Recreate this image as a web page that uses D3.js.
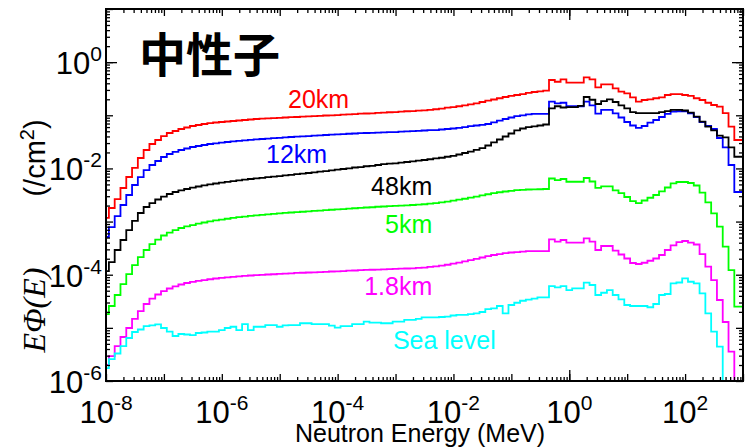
<!DOCTYPE html>
<html><head><meta charset="utf-8">
<script src="https://cdn.jsdelivr.net/npm/d3@7"></script>
<style>
body{margin:0;background:#fff;}
svg{display:block;}
text{font-family:"Liberation Sans",Arial,Helvetica,sans-serif;}
</style></head><body>
<svg id="chart" width="747" height="448"></svg>
<script>
// ---- data (E*Phi(E), /cm^2), 10 log-bins per decade, centres 1e-8 ... 1e3 MeV ----
const binCount = 111;
const binCenters = d3.range(binCount).map(k => Math.pow(10, -8 + k / 10));
const BELOW = 1e-7; // bins whose value lies below the plotted range (< 1e-6)

const flux20km = [
1.17e-3,1.80e-3,2.65e-3,4.28e-3,6.90e-3,1.02e-2,1.57e-2,2.22e-2,2.88e-2,3.43e-2,
4.07e-2,4.64e-2,5.06e-2,5.52e-2,5.89e-2,6.28e-2,6.56e-2,6.85e-2,7.15e-2,7.31e-2,
7.48e-2,7.64e-2,7.80e-2,7.98e-2,8.15e-2,8.34e-2,8.51e-2,8.63e-2,8.73e-2,8.85e-2,
8.97e-2,9.08e-2,9.20e-2,9.29e-2,9.40e-2,9.53e-2,9.66e-2,9.77e-2,9.91e-2,1.00e-1,
1.01e-1,1.03e-1,1.04e-1,1.05e-1,1.07e-1,1.08e-1,1.09e-1,1.11e-1,1.12e-1,1.14e-1,
1.15e-1,1.17e-1,1.19e-1,1.20e-1,1.22e-1,1.24e-1,1.26e-1,1.30e-1,1.34e-1,1.39e-1,
1.43e-1,1.48e-1,1.54e-1,1.61e-1,1.68e-1,1.78e-1,1.88e-1,1.98e-1,2.09e-1,2.21e-1,
2.31e-1,2.41e-1,2.51e-1,2.63e-1,2.74e-1,2.83e-1,2.90e-1,0.461,0.428,0.475,
0.410,0.410,0.410,0.519,0.475,0.336,0.383,0.383,0.322,0.278,
0.259,0.218,0.180,0.194,0.200,0.209,0.218,0.241,0.251,0.251,
0.241,0.231,0.209,0.194,0.172,0.156,0.145,0.110,0.061,0.0343,
0.0343];

const flux12km = [
5.12e-4,7.89e-4,1.27e-3,2.05e-3,3.16e-3,4.88e-3,6.89e-3,9.33e-3,1.16e-2,1.38e-2,
1.64e-2,1.87e-2,2.04e-2,2.22e-2,2.37e-2,2.53e-2,2.64e-2,2.76e-2,2.88e-2,2.97e-2,
3.05e-2,3.14e-2,3.22e-2,3.31e-2,3.38e-2,3.46e-2,3.52e-2,3.58e-2,3.64e-2,3.71e-2,
3.77e-2,3.84e-2,3.90e-2,3.95e-2,4.01e-2,4.07e-2,4.15e-2,4.20e-2,4.26e-2,4.32e-2,
4.37e-2,4.43e-2,4.49e-2,4.54e-2,4.60e-2,4.64e-2,4.68e-2,4.72e-2,4.76e-2,4.81e-2,
4.84e-2,4.91e-2,4.98e-2,5.04e-2,5.11e-2,5.17e-2,5.24e-2,5.28e-2,5.40e-2,5.52e-2,
5.64e-2,5.81e-2,6.01e-2,6.24e-2,6.43e-2,6.62e-2,6.85e-2,7.38e-2,7.91e-2,8.51e-2,
9.08e-2,9.62e-2,1.00e-1,1.04e-1,1.06e-1,1.06e-1,1.06e-1,1.80e-1,1.68e-1,1.72e-1,
1.48e-1,1.48e-1,1.48e-1,1.80e-1,1.53e-1,1.07e-1,1.26e-1,1.26e-1,1.09e-1,9.08e-2,
7.48e-2,6.43e-2,5.81e-2,6.28e-2,7.25e-2,8.15e-2,9.29e-2,1.06e-1,1.17e-1,1.19e-1,
1.19e-1,1.09e-1,9.29e-2,7.48e-2,6.28e-2,5.52e-2,3.74e-2,2.48e-2,1.16e-2,3.60e-3,
3.60e-3];

const flux48km = [
1.17e-4,1.73e-4,2.92e-4,4.50e-4,6.93e-4,1.03e-3,1.45e-3,1.88e-3,2.23e-3,2.60e-3,
2.96e-3,3.30e-3,3.60e-3,3.85e-3,4.10e-3,4.34e-3,4.57e-3,4.79e-3,5.00e-3,5.20e-3,
5.41e-3,5.60e-3,5.79e-3,5.97e-3,6.17e-3,6.32e-3,6.49e-3,6.65e-3,6.84e-3,7.01e-3,
7.19e-3,7.39e-3,7.59e-3,7.78e-3,8.00e-3,8.20e-3,8.45e-3,8.67e-3,8.93e-3,9.22e-3,
9.46e-3,9.75e-3,1.00e-2,1.04e-2,1.06e-2,1.10e-2,1.12e-2,1.16e-2,1.20e-2,1.23e-2,
1.25e-2,1.29e-2,1.32e-2,1.36e-2,1.40e-2,1.44e-2,1.49e-2,1.54e-2,1.59e-2,1.66e-2,
1.73e-2,1.83e-2,1.95e-2,2.08e-2,2.24e-2,2.42e-2,2.70e-2,3.08e-2,3.50e-2,3.99e-2,
4.54e-2,5.18e-2,5.64e-2,6.01e-2,6.21e-2,6.43e-2,6.71e-2,1.35e-1,1.48e-1,1.40e-1,
1.43e-1,1.43e-1,1.50e-1,2.21e-1,1.96e-1,1.63e-1,1.84e-1,2.00e-1,1.78e-1,1.53e-1,
1.35e-1,1.15e-1,1.10e-1,1.10e-1,1.10e-1,1.10e-1,1.15e-1,1.20e-1,1.26e-1,1.26e-1,
1.23e-1,1.12e-1,9.40e-2,7.57e-2,6.10e-2,5.18e-2,4.16e-2,3.85e-2,2.50e-2,1.66e-2,
1.66e-2];

const flux5km = [
1.82e-5,2.58e-5,4.15e-5,6.68e-5,1.03e-4,1.52e-4,2.15e-4,2.92e-4,3.78e-4,4.59e-4,
5.47e-4,6.22e-4,6.93e-4,7.57e-4,8.15e-4,8.61e-4,9.12e-4,9.60e-4,1.01e-3,1.05e-3,
1.09e-3,1.13e-3,1.17e-3,1.21e-3,1.24e-3,1.28e-3,1.31e-3,1.34e-3,1.37e-3,1.40e-3,
1.43e-3,1.46e-3,1.48e-3,1.51e-3,1.53e-3,1.56e-3,1.59e-3,1.61e-3,1.64e-3,1.67e-3,
1.69e-3,1.72e-3,1.75e-3,1.78e-3,1.81e-3,1.84e-3,1.86e-3,1.90e-3,1.92e-3,1.95e-3,
1.97e-3,2.00e-3,2.02e-3,2.05e-3,2.08e-3,2.12e-3,2.17e-3,2.22e-3,2.30e-3,2.38e-3,
2.47e-3,2.58e-3,2.69e-3,2.82e-3,2.96e-3,3.12e-3,3.27e-3,3.42e-3,3.56e-3,3.68e-3,
3.79e-3,3.89e-3,3.96e-3,4.01e-3,4.05e-3,4.06e-3,4.10e-3,6.46e-3,6.05e-3,6.32e-3,
5.62e-3,5.62e-3,5.62e-3,6.61e-3,5.68e-3,4.29e-3,4.61e-3,4.61e-3,3.85e-3,3.44e-3,
2.90e-3,2.42e-3,2.23e-3,2.49e-3,2.81e-3,3.16e-3,3.71e-3,4.38e-3,5.25e-3,5.55e-3,
5.55e-3,5.32e-3,4.77e-3,3.52e-3,2.29e-3,1.43e-3,8.00e-4,3.37e-4,1.22e-4,2.50e-5,
2.50e-5];

const flux1p8km = [
2.00e-6,2.95e-6,4.55e-6,6.73e-6,9.93e-6,1.47e-5,2.07e-5,2.81e-5,3.56e-5,4.24e-5,
4.93e-5,5.50e-5,6.05e-5,6.55e-5,6.98e-5,7.35e-5,7.67e-5,7.94e-5,8.22e-5,8.49e-5,
8.71e-5,8.94e-5,9.13e-5,9.33e-5,9.49e-5,9.66e-5,9.83e-5,9.95e-5,1.01e-4,1.02e-4,
1.04e-4,1.05e-4,1.06e-4,1.08e-4,1.09e-4,1.10e-4,1.11e-4,1.12e-4,1.13e-4,1.15e-4,
1.16e-4,1.17e-4,1.19e-4,1.20e-4,1.22e-4,1.23e-4,1.24e-4,1.25e-4,1.26e-4,1.27e-4,
1.29e-4,1.30e-4,1.31e-4,1.32e-4,1.34e-4,1.36e-4,1.40e-4,1.43e-4,1.48e-4,1.54e-4,
1.61e-4,1.69e-4,1.78e-4,1.88e-4,1.99e-4,2.11e-4,2.23e-4,2.35e-4,2.45e-4,2.54e-4,
2.62e-4,2.67e-4,2.73e-4,2.77e-4,2.79e-4,2.79e-4,2.77e-4,4.63e-4,4.18e-4,4.50e-4,
4.00e-4,4.00e-4,4.00e-4,4.84e-4,4.18e-4,2.92e-4,3.47e-4,3.47e-4,2.83e-4,2.40e-4,
2.02e-4,1.66e-4,1.59e-4,1.68e-4,1.83e-4,2.02e-4,2.35e-4,2.92e-4,3.55e-4,4.12e-4,
4.31e-4,4.00e-4,3.70e-4,2.45e-4,1.42e-4,7.94e-5,3.34e-5,1.29e-5,3.56e-6,BELOW,
BELOW];

const fluxSeaLevel = [
1.75e-6,2.59e-6,3.29e-6,4.55e-6,6.44e-6,8.36e-6,9.31e-6,1.08e-5,1.11e-5,1.16e-5,
9.93e-6,8.53e-6,7.02e-6,7.66e-6,7.50e-6,7.33e-6,8.00e-6,8.17e-6,8.46e-6,8.53e-6,
9.10e-6,9.93e-6,1.05e-5,9.10e-6,1.18e-5,9.10e-6,1.05e-5,1.05e-5,1.13e-5,1.13e-5,
1.05e-5,1.11e-5,1.13e-5,1.13e-5,1.22e-5,1.22e-5,1.18e-5,1.18e-5,1.18e-5,1.10e-5,
1.01e-5,1.08e-5,1.08e-5,1.18e-5,1.18e-5,1.31e-5,1.25e-5,1.25e-5,1.22e-5,1.22e-5,
1.31e-5,1.31e-5,1.41e-5,1.41e-5,1.47e-5,1.58e-5,1.58e-5,1.58e-5,1.60e-5,1.62e-5,
1.71e-5,1.75e-5,1.75e-5,1.82e-5,1.88e-5,1.99e-5,2.26e-5,2.33e-5,2.58e-5,1.88e-5,
2.69e-5,2.97e-5,3.24e-5,3.41e-5,3.56e-5,3.76e-5,3.76e-5,6.12e-5,5.79e-5,6.12e-5,
5.15e-5,5.55e-5,5.55e-5,7.08e-5,6.40e-5,4.15e-5,4.58e-5,5.15e-5,4.15e-5,3.44e-5,
2.69e-5,2.58e-5,2.58e-5,2.58e-5,2.44e-5,2.81e-5,4.15e-5,4.34e-5,6.89e-5,7.13e-5,
8.55e-5,7.38e-5,6.89e-5,4.47e-5,1.88e-5,8.46e-6,4.42e-6,BELOW,BELOW,BELOW,
BELOW];

const seriesNames  = ["20km", "12km", "48km", "5km", "1.8km", "Sea level"];
const seriesValues = [flux20km, flux12km, flux48km, flux5km, flux1p8km, fluxSeaLevel];
const seriesColors = ["#ff0000", "#0000ff", "#000000", "#00ff00", "#ff00ff", "#00ffff"];
// label anchor points in data space: [energy MeV, flux, text-anchor]
const labelPos = [[1.39e-5, 0.137, "start"], [5.8e-6, 0.0127, "start"], [4.3e-3, 3.16e-3, "end"],
                  [4.3e-3, 6.1e-4, "end"], [4.3e-3, 4.15e-5, "end"], [9.0e-4, 4.0e-6, "start"]];

const xLabelExps = [-8, -6, -4, -2, 0, 2];
const yLabelExps = [-6, -4, -2, 0];
const titleText = "中性子";
const xTitle = "Neutron Energy (MeV)";

// ---- drawing ----
const L = 106, R = 743, T = 9, B = 381;
const svg = d3.select("#chart");
const x = d3.scaleLog().domain([1e-8, 1e3]).range([L, R]);
const y = d3.scaleLog().domain([1e-6, 1e1]).range([B, T]);

svg.append("defs").append("clipPath").attr("id", "plotclip")
  .append("rect").attr("x", L).attr("y", T).attr("width", R - L).attr("height", B - T);

const line = d3.line().x(d => x(d[0])).y(d => y(d[1])).curve(d3.curveStep);
const plot = svg.append("g").attr("clip-path", "url(#plotclip)");
seriesValues.forEach((vals, i) => {
  plot.append("path")
    .datum(binCenters.map((e, k) => [e, vals[k]]))
    .attr("d", line).attr("fill", "none")
    .attr("stroke", seriesColors[i]).attr("stroke-width", 1.8)
    .attr("stroke-linejoin", "miter");
});

// ticks
const minorVals = (lo, hi) => { const a = []; for (let e = lo; e < hi; e++) for (let m = 2; m <= 9; m++) a.push(m * Math.pow(10, e)); return a; };
const decadeVals = (lo, hi) => d3.range(lo, hi + 1).map(e => Math.pow(10, e));
const tickSets = [
  {xs: minorVals(-8, 3), ys: minorVals(-6, 1), size: 4},
  {xs: decadeVals(-8, 3), ys: decadeVals(-6, 1), size: 7},
  {xs: [1], ys: [1], size: 11}
];
tickSets.forEach(ts => {
  const mk = (axis, tr) => {
    const g = svg.append("g").attr("transform", tr)
      .call(axis.tickSize(-ts.size).tickSizeOuter(0).tickFormat(""));
    g.select(".domain").remove();
    g.selectAll("line").attr("stroke", "#000").attr("stroke-width", 1.3);
  };
  mk(d3.axisBottom(x).tickValues(ts.xs), `translate(0,${B})`);
  mk(d3.axisTop(x).tickValues(ts.xs), `translate(0,${T})`);
  mk(d3.axisLeft(y).tickValues(ts.ys), `translate(${L},0)`);
  mk(d3.axisRight(y).tickValues(ts.ys), `translate(${R},0)`);
});

// frame
svg.append("rect").attr("x", L).attr("y", T).attr("width", R - L).attr("height", B - T)
  .attr("fill", "none").attr("stroke", "#000").attr("stroke-width", 2);

const expText = e => (e < 0 ? "-" + (-e) : String(e));
// x tick labels
xLabelExps.forEach(e => {
  const t = svg.append("text").attr("x", x(Math.pow(10, e))).attr("y", 423)
    .attr("text-anchor", "middle").style("font-size", "31px").attr("fill", "#000");
  t.append("tspan").text("10");
  t.append("tspan").attr("dy", -13).style("font-size", "21px").text(expText(e));
});
// y tick labels (right-aligned just left of the axis)
yLabelExps.forEach(e => {
  const t = svg.append("text").attr("x", 102).attr("y", y(Math.pow(10, e)) + 12)
    .attr("text-anchor", "end").style("font-size", "31px").attr("fill", "#000");
  t.append("tspan").text("10");
  t.append("tspan").attr("dy", -13).style("font-size", "21px").text(expText(e));
});

// axis titles
svg.append("text").attr("x", 420).attr("y", 442).attr("text-anchor", "middle")
  .style("font-size", "25px").text(xTitle);
svg.append("text").attr("transform", "translate(45,310) rotate(-90)")
  .attr("text-anchor", "middle").style("font-family", "'Liberation Serif','DejaVu Serif',serif")
  .style("font-style", "italic").style("font-size", "32px").attr("fill", "#000").text("EΦ(E)");
const yt2 = svg.append("text").attr("transform", "translate(45,158) rotate(-90)")
  .attr("text-anchor", "middle").style("font-size", "29px").attr("fill", "#000");
yt2.append("tspan").text("(/cm");
yt2.append("tspan").attr("dy", -11).style("font-size", "20px").text("2");
yt2.append("tspan").attr("dy", 11).text(")");

// title
svg.append("text").attr("x", 139).attr("y", 72)
  .style("font-family", "'Noto Sans CJK JP','Noto Sans CJK SC',sans-serif")
  .style("font-size", "47px").style("font-weight", "bold").text(titleText);

// series labels
seriesNames.forEach((n, i) => {
  const p = labelPos[i];
  svg.append("text").attr("x", x(p[0])).attr("y", y(p[1]))
    .attr("text-anchor", p[2]).style("font-size", "25px")
    .attr("fill", seriesColors[i]).text(n);
});
</script>
</body></html>
